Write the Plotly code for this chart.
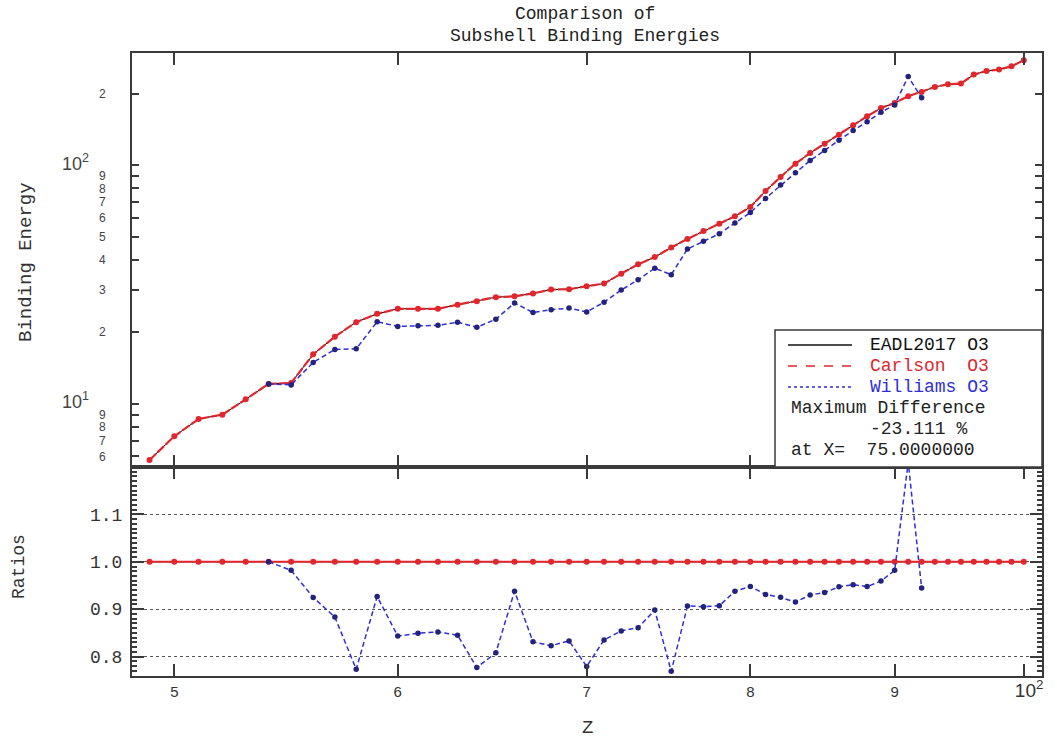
import math
import plotly.graph_objects as go

# ---------------- data ----------------
Z = [49, 50, 51, 52, 53, 54, 55, 56, 57, 58, 59, 60, 61, 62, 63, 64, 65, 66, 67, 68,
     69, 70, 71, 72, 73, 74, 75, 76, 77, 78, 79, 80, 81, 82, 83, 84, 85, 86, 87, 88,
     89, 90, 91, 92, 93, 94, 95, 96, 97, 98, 99, 100]
EADL = [5.80, 7.29, 8.62, 8.99, 10.42, 12.1, 12.2, 16.1, 19.1, 21.96, 23.8, 25.0, 25.0, 25.0,
        26.0, 26.9, 27.97, 28.2, 29.0, 30.1, 30.2, 31.1, 31.9, 35.1, 38.4, 41.2, 45.2, 49.1,
        53.0, 56.9, 61.1, 66.8, 78.0, 89.3, 101.6, 112.6, 123.3, 134.5, 147.2, 160.6, 174.0,
        182.6, 194.8, 203.1, 213.1, 218.8, 220.3, 240.3, 248.7, 252.2, 260.3, 275.8]
CARLSON = [5.80, 7.29, 8.62, 8.99, 10.42, 12.1, 12.2, 16.1, 19.1, 21.96, 23.8, 25.0, 25.0, 25.0,
           26.0, 26.9, 27.97, 28.2, 29.0, 30.1, 30.2, 31.1, 31.9, 35.1, 38.4, 41.2, 45.2, 49.1,
           53.0, 56.9, 61.1, 66.8, 78.0, 89.3, 101.6, 112.6, 123.3, 134.5, 147.2, 160.6, 174.0,
           182.6, 194.8, 203.1, 213.1, 218.8, 220.3, 240.3, 248.7, 252.2, 260.3, 275.8]
Z_WILLIAMS = [54, 55, 56, 57, 58, 59, 60, 61, 62, 63, 64, 65, 66, 67, 68, 69, 70, 71, 72, 73,
              74, 75, 76, 77, 78, 79, 80, 81, 82, 83, 84, 85, 86, 87, 88, 89, 90, 91, 92]
WILLIAMS = [12.1, 11.98, 14.89, 16.87, 16.98, 22.06, 21.08, 21.23, 21.3, 21.97, 20.90, 22.60,
            26.45, 24.10, 24.77, 25.16, 24.23, 26.64, 29.98, 33.06, 37.00, 34.754, 44.53, 47.97,
            51.61, 57.31, 63.33, 72.62, 82.60, 92.96, 104.7, 115.3, 127.4, 140.1, 152.2, 166.9,
            179.3, 235.7, 191.9]

X_TICKS = [50, 60, 70, 80, 90, 100]
X_TICKTEXT = ["5", "6", "7", "8", "9", '<span style="font-size:19px">\u00a0\u00a010<sup>2</sup></span>']
Y_TICKS = [6, 7, 8, 9, 10, 20, 30, 40, 50, 60, 70, 80, 90, 100, 200]
BIG = '<span style="font-size:18px">10<sup>%d</sup></span>\u00a0\u00a0\u00a0\u00a0\u00a0'
Y_TICKTEXT = ["6", "7", "8", "9", BIG % 1, "2", "3", "4", "5", "6", "7", "8", "9", BIG % 2, "2"]
R_TICKS = [0.8, 0.9, 1.0, 1.1]
R_TICKTEXT = ["0.8", "0.9", "1.0", "1.1"]
GRID_DECADES = [10, 100]
X_GRID = [100]

# derived ratios to EADL
eadl_by_z = dict(zip(Z, EADL))
R_EADL = [e / e for e in EADL]
R_CARLSON = [c / eadl_by_z[z] for z, c in zip(Z, CARLSON)]
R_WILLIAMS = [w / eadl_by_z[z] for z, w in zip(Z_WILLIAMS, WILLIAMS)]

# ---------------- layout geometry ----------------
W, H = 1057, 744
ML, MR, MT, MB = 132, 15, 53, 68
PW, PH = W - ML - MR, H - MT - MB
SPLIT = (676 - 467) / PH


def fx(px):
    return (px - ML) / PW


def fy(py):
    return (H - MB - py) / PH


MONO = "Liberation Mono"
SANS = "Liberation Sans"
RED = "#e1262e"
BLUE = "#2f2fd8"
NAVY = "#23237e"
FRAME = "#3a3a3a"
GRID = "#555555"

fig = go.Figure()

# top panel
fig.add_trace(go.Scatter(x=Z, y=EADL, mode="lines", line=dict(color="black", width=1),
                         xaxis="x2", yaxis="y2", name="EADL2017 O3"))
fig.add_trace(go.Scatter(x=Z, y=CARLSON, mode="lines+markers",
                         line=dict(color=RED, width=2.2, dash="9px,2px"),
                         marker=dict(color=RED, size=6), xaxis="x2", yaxis="y2", name="Carlson O3"))
fig.add_trace(go.Scatter(x=Z_WILLIAMS, y=WILLIAMS, mode="lines+markers",
                         line=dict(color=BLUE, width=1.5, dash="5px,3px"),
                         marker=dict(color=NAVY, size=5.5), xaxis="x2", yaxis="y2", name="Williams O3"))
# ratio panel
fig.add_trace(go.Scatter(x=Z, y=R_EADL, mode="lines", line=dict(color="black", width=1),
                         xaxis="x", yaxis="y", showlegend=False))
fig.add_trace(go.Scatter(x=Z, y=R_CARLSON, mode="lines+markers",
                         line=dict(color=RED, width=2),
                         marker=dict(color=RED, size=6), xaxis="x", yaxis="y", showlegend=False))
fig.add_trace(go.Scatter(x=Z_WILLIAMS, y=R_WILLIAMS, mode="lines+markers",
                         line=dict(color=BLUE, width=1.5, dash="5px,3px"),
                         marker=dict(color=NAVY, size=5.5), xaxis="x", yaxis="y", showlegend=False))

axis_common = dict(showline=True, linewidth=2, linecolor=FRAME, mirror="ticks",
                   ticks="inside", tickcolor=FRAME, tickwidth=1.5, zeroline=False)

x_range = [1.68398, 2.00645]

fig.update_layout(
    width=W, height=H,
    margin=dict(l=ML, r=MR, t=MT, b=MB),
    paper_bgcolor="white", plot_bgcolor="white",
    showlegend=False,
    xaxis=dict(axis_common, type="log", range=x_range, domain=[0, 1], anchor="y",
               tickvals=X_TICKS, ticktext=X_TICKTEXT, ticklen=12, showgrid=False,
               tickfont=dict(family=SANS, size=15, color="#333"), ticklabelstandoff=1),
    xaxis2=dict(axis_common, type="log", range=x_range, domain=[0, 1], anchor="y2",
                matches="x", tickvals=X_TICKS, ticklen=12, showgrid=False,
                showticklabels=False),
    yaxis=dict(axis_common, range=[0.759, 1.2], domain=[0, SPLIT], anchor="x",
               tickvals=R_TICKS, ticktext=R_TICKTEXT, ticklen=12,
               showgrid=True, griddash="dot", gridcolor=GRID, gridwidth=1,
               minor=dict(dtick=0.01, ticks="inside", ticklen=5, tickcolor=FRAME, showgrid=False),
               tickfont=dict(family=MONO, size=18, color="#333"), ticklabelstandoff=4),
    yaxis2=dict(axis_common, type="log", range=[0.734, 2.4713], domain=[SPLIT, 1], anchor="x2",
                tickvals=Y_TICKS, ticktext=Y_TICKTEXT, ticklen=7, showgrid=False,
                tickfont=dict(family=SANS, size=12, color="#444"), ticklabelstandoff=22),
)

# dotted grid lines
shapes = []
for g in GRID_DECADES:
    shapes.append(dict(type="line", xref="x2 domain", x0=0, x1=1, yref="y2",
                       y0=math.log10(g), y1=math.log10(g),
                       line=dict(color=GRID, width=1, dash="dot"), layer="below"))
for g in X_GRID:
    shapes.append(dict(type="line", xref="x", x0=math.log10(g), x1=math.log10(g),
                       yref="paper", y0=0, y1=1,
                       line=dict(color=GRID, width=1, dash="dot"), layer="below"))

# legend box
LEG_FONT = 18
shapes.append(dict(type="rect", xref="paper", yref="paper", x0=fx(775), x1=1.0,
                   y0=SPLIT, y1=fy(330), fillcolor="white",
                   line=dict(color=FRAME, width=1.5), layer="above"))
legend_rows = [("EADL2017 O3", "#111", "solid", 345),
               ("Carlson\u00a0\u00a0O3", RED, "dash", 366),
               ("Williams O3", BLUE, "dot", 387)]
annotations = []
for text, color, dash, py in legend_rows:
    shapes.append(dict(type="line", xref="paper", yref="paper", x0=fx(788), x1=fx(852),
                       y0=fy(py), y1=fy(py), line=dict(color=color, width=1.5, dash=dash)))
    annotations.append(dict(text=text, xref="paper", yref="paper", x=fx(868), y=fy(py),
                            xanchor="left", yanchor="middle", showarrow=False,
                            font=dict(family=MONO, size=LEG_FONT, color=color)))
for text, px, py in [("Maximum Difference", 789, 408),
                     ("-23.111 %", 868, 429),
                     ("at X=\u00a0\u00a075.0000000", 789, 450)]:
    annotations.append(dict(text=text, xref="paper", yref="paper", x=fx(px), y=fy(py),
                            xanchor="left", yanchor="middle", showarrow=False,
                            font=dict(family=MONO, size=LEG_FONT, color="#222")))

# titles
annotations.append(dict(text="Comparison of", xref="paper", yref="paper", x=fx(585), y=fy(14),
                        xanchor="center", yanchor="middle", showarrow=False,
                        font=dict(family=MONO, size=18, color="#222")))
annotations.append(dict(text="Subshell Binding Energies", xref="paper", yref="paper", x=fx(585),
                        y=fy(36), xanchor="center", yanchor="middle", showarrow=False,
                        font=dict(family=MONO, size=18, color="#222")))
annotations.append(dict(text="Binding Energy", xref="paper", yref="paper", x=fx(26), y=fy(262),
                        xanchor="center", yanchor="middle", showarrow=False, textangle=-90,
                        font=dict(family=MONO, size=19, color="#333")))
annotations.append(dict(text="Ratios", xref="paper", yref="paper", x=fx(19), y=fy(567),
                        xanchor="center", yanchor="middle", showarrow=False, textangle=-90,
                        font=dict(family=MONO, size=18, color="#333")))
annotations.append(dict(text="Z", xref="paper", yref="paper", x=fx(587), y=fy(728),
                        xanchor="center", yanchor="middle", showarrow=False,
                        font=dict(family=MONO, size=19, color="#333")))

fig.update_layout(shapes=shapes, annotations=annotations)

fig.write_html("out.html")
